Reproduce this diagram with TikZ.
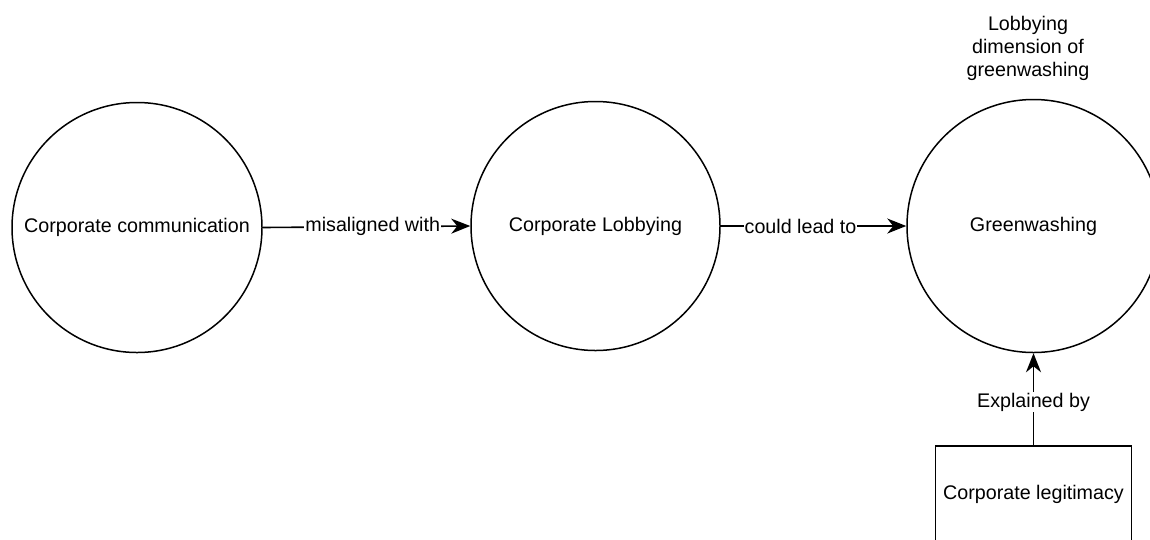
\documentclass[tikz,border=0pt]{standalone}
\usepackage{fontspec}
\setmainfont{Liberation Sans}
\usetikzlibrary{arrows.meta}
\begin{document}
\begin{tikzpicture}[
  x=1pt, y=-1pt,
  every node/.style={font=\fontsize{19.7pt}{23pt}\selectfont, text=black},
  concept/.style={draw, circle, line width=1.5pt, inner sep=0pt, fill=white},
  factor/.style={draw, rectangle, line width=1.5pt, inner sep=0pt,
    minimum width=196pt, minimum height=96pt, fill=white},
  link/.style={line width=1.6pt, -{Stealth[length=19pt, width=15pt, inset=6pt]}},
  linklabel/.style={fill=white, inner sep=1pt}
]
  \useasboundingbox (0,0) rectangle (1150,539);
  \clip (0,0) rectangle (1150,539);

  % concepts
  \node[concept, minimum size=250pt] (comm) at (137,227.5) {Corporate communication};
  \node[concept, minimum size=249pt] (lobby) at (595.5,226) {Corporate Lobbying};
  \node[concept, minimum size=253pt] (green) at (1033.5,226) {Greenwashing};
  \node[align=center] (dim) at (1028,48) {Lobbying\\dimension of\\greenwashing};

  % explanatory factor
  \node[factor] (legit) at (1033.5,494) {Corporate legitimacy};

  % relations
  \draw[link] (comm.east) -- node[linklabel, pos=0.53] (l1) {misaligned with} (lobby.west);
  \draw[link] (lobby.east) -- node[linklabel, pos=0.43] (l2) {could lead to} (green.west);
  \draw[link] (legit.north) -- node[linklabel, pos=0.47] (l3) {Explained by} (green.south);
\end{tikzpicture}
\end{document}
